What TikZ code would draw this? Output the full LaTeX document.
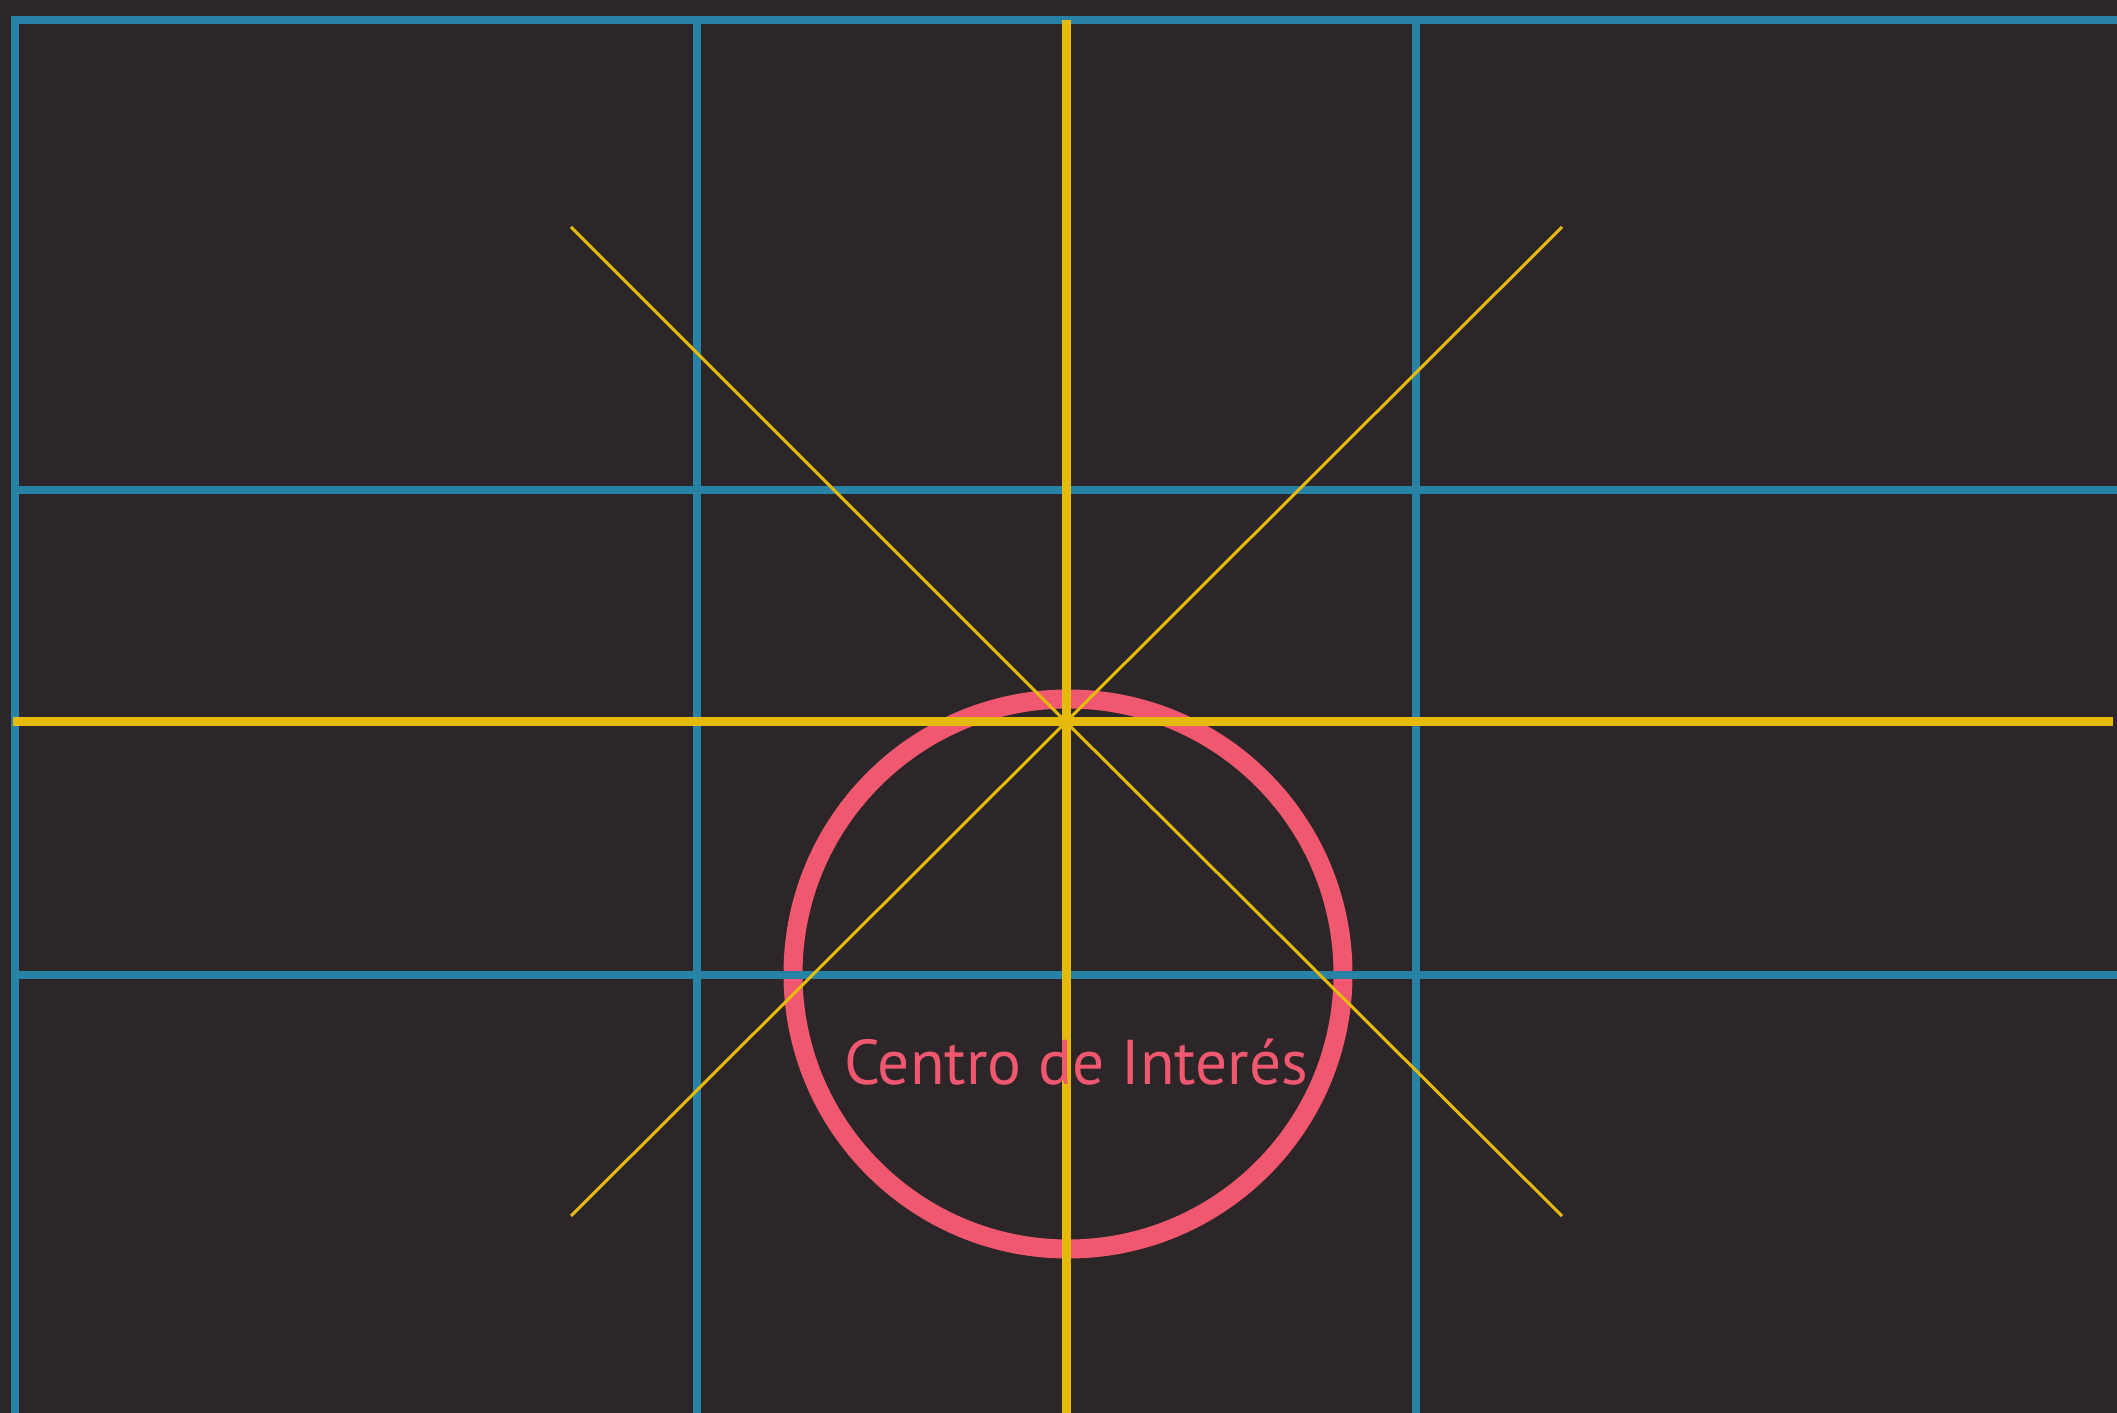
\documentclass[tikz,border=0pt]{standalone}
\usepackage{fontspec}
\setmainfont{PT Sans}
\usepackage{xcolor}
\usepackage{tikz}
\usetikzlibrary{calc}
\definecolor{FrameDark}{RGB}{45,38,40}
\definecolor{GridBlue}{RGB}{40,130,165}
\definecolor{AxisYellow}{RGB}{230,186,10}
\definecolor{FocusPink}{RGB}{240,88,112}

\begin{document}
\begin{tikzpicture}[
    x=0.01cm,y=-0.01cm,
    gridline/.style={draw=GridBlue, line width=0.085cm},
    axisline/.style={draw=AxisYellow, line width=0.09cm},
    diagline/.style={draw=AxisYellow, line width=0.03cm},
    focusring/.style={draw=FocusPink, line width=0.19cm},
    focuslabel/.style={text=FocusPink, font=\fontsize{18}{21}\selectfont, inner sep=0pt}
  ]
    \fill[FrameDark] (0,0) rectangle (2117,1413);
    \useasboundingbox (0,0) rectangle (2117,1413);
    \coordinate (cross) at (1066,722);
    \coordinate (ringc) at (1068,974);
    % ring below the grid
    \draw[focusring] (ringc) circle[radius=275];
    % thirds grid
    \draw[gridline] (15,1413) -- (15,20) -- (2117,20);
    \foreach \y in {490,975} {\draw[gridline] (15,\y) -- (2117,\y);}
    \foreach \x in {697,1416} {\draw[gridline] (\x,20) -- (\x,1413);}
    % main axes and diagonals
    \draw[axisline] (13,722) -- (2113,722);
    \draw[axisline] (1066,20) -- (1066,1413);
    \draw[diagline] (571,227) -- (cross) -- (1562,1216);
    \draw[diagline] (1562,227) -- (cross) -- (571,1216);
    \node[focuslabel] (focus) at (1076,1062) {Centro de Interés};
\end{tikzpicture}
\end{document}
